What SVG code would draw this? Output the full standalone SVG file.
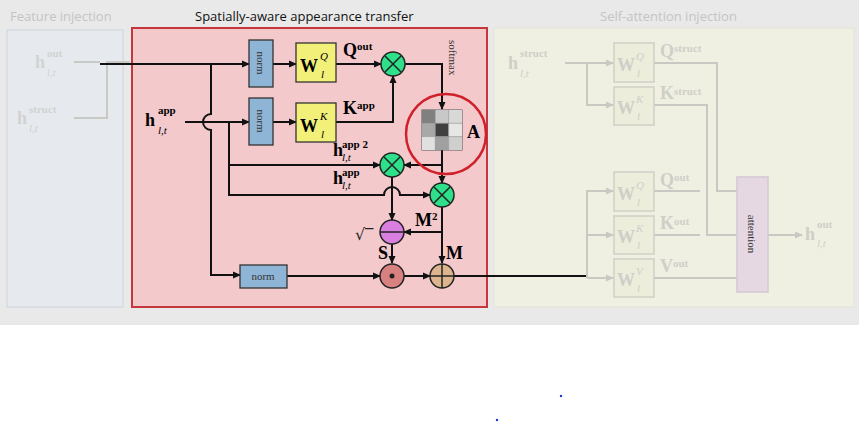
<svg xmlns="http://www.w3.org/2000/svg" width="859" height="423" viewBox="0 0 859 423">
<style>
.t{font-family:"Open Sans","Liberation Sans",sans-serif;font-size:13px}
.m{font-family:"Liberation Serif",serif;font-size:18px;font-weight:bold}
.s{font-family:"Liberation Serif",serif;font-size:11px;font-weight:bold}
.i{font-family:"Liberation Serif",serif;font-size:11px;font-style:italic}
.ln{fill:none;stroke:#111;stroke-width:2}
.gl{fill:none;stroke:#c9c9c4;stroke-width:2}
.norm{fill:#8fb5d6;stroke:#333;stroke-width:1.3}
.w{fill:#f3f07a;stroke:#333;stroke-width:1.3}
.gw{fill:#ededdc;stroke:#cfcfc6;stroke-width:1.5}
.nt{font-family:"Liberation Serif",serif;font-size:11px;fill:#333}
.gt{fill:#cfcfc8}
.lt{fill:#d2d2d2}
</style>
<defs>
<marker id="a" markerWidth="8" markerHeight="8" refX="7" refY="4" orient="auto" markerUnits="userSpaceOnUse"><path d="M0,0.5 L8,4 L0,7.5z" fill="#111"/></marker>
<marker id="g" markerWidth="8" markerHeight="8" refX="7" refY="4" orient="auto" markerUnits="userSpaceOnUse"><path d="M0,0.5 L8,4 L0,7.5z" fill="#c9c9c4"/></marker>
</defs>
<rect width="859" height="325" fill="#e9e9e9"/>
<rect y="325" width="859" height="98" fill="#fff"/>
<circle cx="561" cy="396" r="1.2" fill="#1a3ccc"/>
<circle cx="497" cy="420" r="1.2" fill="#1a3ccc"/>
<text class="t" x="10" y="21" fill="#c4c4c4">Feature injection</text>
<text class="t" x="195" y="21" fill="#111">Spatially-aware appearance transfer</text>
<text class="t" x="600" y="21" fill="#c4c4c4">Self-attention injection</text>

<g id="left-panel">
<rect x="7" y="30" width="116" height="277" fill="#e6eaee" stroke="#d0d8de" stroke-width="1.2"/>
<text x="35" y="68" class="m lt" font-size="20">h</text><text x="47" y="57" class="s lt" font-size="12">out</text><text x="47" y="76" class="i lt" font-size="12">l,t</text>
<text x="17" y="124" class="m lt" font-size="20">h</text><text x="29" y="113" class="s lt" font-size="12">struct</text><text x="29" y="132" class="i lt" font-size="12">l,t</text>
<path class="gl" d="M74,62 H100 M74,118 H107 V62 H130"/>
</g>

<g id="main-panel">
<rect x="132" y="28" width="355" height="279" fill="#f3c9cc" stroke="#c6373d" stroke-width="2"/>
</g>

<g id="right-panel">
<rect x="494" y="28" width="360" height="279" fill="#efefe2" stroke="#e3e3d6" stroke-width="1"/>
</g>

<g id="connectors">
<path class="ln" d="M100,64 H249" marker-end="url(#a)"/>
<path class="ln" d="M273,64 H296" marker-end="url(#a)"/>
<path class="ln" d="M336,64 H381" marker-end="url(#a)"/>
<path class="ln" d="M211,64 V114 A8,8 0 0 0 211,130 V275 H240" marker-end="url(#a)"/>
<path class="ln" d="M185,122 H249" marker-end="url(#a)"/>
<path class="ln" d="M273,122 H296" marker-end="url(#a)"/>
<path class="ln" d="M336,122 H393 V76" marker-end="url(#a)"/>
<path class="ln" d="M405,64 H442 V109" marker-end="url(#a)"/>
<path class="ln" d="M229,122 V195 H384 A8,8 0 0 1 400,195 H430" marker-end="url(#a)"/>
<path class="ln" d="M229,165 H380" marker-end="url(#a)"/>
<path class="ln" d="M442,150 V165 H404" marker-end="url(#a)"/>
<path class="ln" d="M442,165 V183" marker-end="url(#a)"/>
<path class="ln" d="M392,177 V220" marker-end="url(#a)"/>
<path class="ln" d="M442,207 V263" marker-end="url(#a)"/>
<path class="ln" d="M442,232 H404" marker-end="url(#a)"/>
<path class="ln" d="M392,244 V263" marker-end="url(#a)"/>
<path class="ln" d="M287,276 H380" marker-end="url(#a)"/>
<path class="ln" d="M404,276 H430" marker-end="url(#a)"/>
<path class="ln" d="M454,276 H587"/>
<path class="gl" d="M565,63 H613" marker-end="url(#g)"/>
<path class="gl" d="M587,63 V105 H613" marker-end="url(#g)"/>
<path class="gl" d="M587,278 H613" marker-end="url(#g)"/>
<path class="gl" d="M587,278 V191 H613" marker-end="url(#g)"/>
<path class="gl" d="M587,235 H613" marker-end="url(#g)"/>
<path class="gl" d="M654,63 H717 V191 H737"/>
<path class="gl" d="M654,105 H707 V235 H737"/>
<path class="gl" d="M654,191 H700 M654,235 H700"/>
<path class="gl" d="M654,278 H737"/>
<path class="gl" d="M768,235 H802" marker-end="url(#g)"/>
</g>

<g id="norm1"><rect class="norm" x="249" y="40" width="24" height="47"/><text class="nt" transform="translate(257,63) rotate(90)" text-anchor="middle">norm</text></g>
<g id="norm2"><rect class="norm" x="249" y="98" width="24" height="47"/><text class="nt" transform="translate(257,121) rotate(90)" text-anchor="middle">norm</text></g>
<g id="norm3"><rect class="norm" x="240" y="265" width="47" height="23"/><text class="nt" x="263" y="280" text-anchor="middle">norm</text></g>
<g id="wq"><rect class="w" x="296" y="43" width="40" height="39"/><text class="m" x="300" y="72" font-size="20">W</text><text class="i" x="320" y="60" font-size="13">Q</text><text class="i" x="321" y="78" font-size="13">l</text></g>
<g id="wk"><rect class="w" x="296" y="103" width="40" height="39"/><text class="m" x="300" y="132" font-size="20">W</text><text class="i" x="320" y="120" font-size="13">K</text><text class="i" x="321" y="138" font-size="13">l</text></g>
<text class="m" x="343" y="56" font-size="14">Q<tspan class="s" font-size="9" dy="-6">out</tspan></text>
<text class="m" x="343" y="114" font-size="14">K<tspan class="s" font-size="9" dy="-5">app</tspan></text>
<text x="145" y="126" class="m" font-size="22">h</text><text x="158" y="114" class="s" font-size="14">app</text><text x="158" y="134" class="i" font-size="13">l,t</text>
<text x="333" y="156" class="m" font-size="14">h</text><text x="342" y="148" class="s" font-size="9">app 2</text><text x="342" y="161" class="i" font-size="9">l,t</text>
<text x="333" y="184" class="m" font-size="14">h</text><text x="342" y="176" class="s" font-size="9">app</text><text x="342" y="189" class="i" font-size="9">l,t</text>
<text class="nt" font-size="12" fill="#111" transform="translate(449,40) rotate(90)">softmax</text>

<g id="attn-matrix">
<rect x="422" y="110" width="40" height="40" fill="#fff" stroke="#555"/>
<rect x="422" y="110" width="13.3" height="13.3" fill="#808080"/><rect x="435.3" y="110" width="13.3" height="13.3" fill="#c8c8c8"/><rect x="448.6" y="110" width="13.4" height="13.3" fill="#d8d8d8"/>
<rect x="422" y="123.3" width="13.3" height="13.3" fill="#a8a8a8"/><rect x="435.3" y="123.3" width="13.3" height="13.3" fill="#404040"/><rect x="448.6" y="123.3" width="13.4" height="13.3" fill="#e6e6e6"/>
<rect x="422" y="136.6" width="13.3" height="13.4" fill="#e0e0e0"/><rect x="435.3" y="136.6" width="13.3" height="13.4" fill="#a0a0a0"/><rect x="448.6" y="136.6" width="13.4" height="13.4" fill="#cfcfcf"/>
<path d="M435.3,110V150M448.6,110V150M422,123.3H462M422,136.6H462" stroke="#888" stroke-width="0.6"/>
<circle cx="446" cy="134" r="40" fill="none" stroke="#d0202a" stroke-width="2.5"/>
<text class="m" x="467" y="138" font-size="14">A</text>
</g>

<g id="mul1"><circle cx="393" cy="64" r="12" fill="#2ee08a" stroke="#222" stroke-width="1.5"/><path d="M385,56L401,72M401,56L385,72" stroke="#222" stroke-width="1.5"/></g>
<g id="mul2"><circle cx="392" cy="165" r="12" fill="#2ee08a" stroke="#222" stroke-width="1.5"/><path d="M384,157L400,173M400,157L384,173" stroke="#222" stroke-width="1.5"/></g>
<g id="mul3"><circle cx="442" cy="195" r="12" fill="#2ee08a" stroke="#222" stroke-width="1.5"/><path d="M434,187L450,203M450,187L434,203" stroke="#222" stroke-width="1.5"/></g>
<g id="minus"><circle cx="392" cy="232" r="12" fill="#d97fe0" stroke="#222" stroke-width="1.5"/><path d="M380,232H404" stroke="#222" stroke-width="1.5"/></g>
<text font-family="DejaVu Sans,sans-serif" x="355" y="240" font-size="16" fill="#222">√‾</text>
<text class="m" x="415" y="226" font-size="14">M<tspan class="s" font-size="9" dy="-6">2</tspan></text>
<text class="m" x="378" y="259" font-size="14">S</text>
<text class="m" x="446" y="259" font-size="14">M</text>
<g id="odot"><circle cx="392" cy="276" r="12" fill="#d98080" stroke="#222" stroke-width="1.5"/><circle cx="392" cy="276" r="2.5" fill="#222"/></g>
<g id="oplus"><circle cx="442" cy="276" r="12" fill="#dcb48e" stroke="#222" stroke-width="1.5"/><path d="M430,276H454M442,264V288" stroke="#222" stroke-width="1.5"/></g>

<g id="right-nodes">
<text x="508" y="69" class="m gt" font-size="20">h</text><text x="520" y="57" class="s gt" font-size="12">struct</text><text x="520" y="77" class="i gt" font-size="12">l,t</text>
<rect class="gw" x="614" y="43" width="40" height="39"/><rect class="gw" x="614" y="87" width="40" height="38"/>
<rect class="gw" x="614" y="172" width="40" height="39"/><rect class="gw" x="614" y="216" width="40" height="38"/><rect class="gw" x="614" y="259" width="40" height="38"/>
<text class="m gt" x="617" y="71" font-size="19">W</text><text class="i gt" x="636" y="60" font-size="12">Q</text><text class="i gt" x="637" y="77" font-size="12">l</text>
<text class="m gt" x="617" y="114" font-size="19">W</text><text class="i gt" x="636" y="103" font-size="12">K</text><text class="i gt" x="637" y="120" font-size="12">l</text>
<text class="m gt" x="617" y="200" font-size="19">W</text><text class="i gt" x="636" y="189" font-size="12">Q</text><text class="i gt" x="637" y="206" font-size="12">l</text>
<text class="m gt" x="617" y="243" font-size="19">W</text><text class="i gt" x="636" y="232" font-size="12">K</text><text class="i gt" x="637" y="249" font-size="12">l</text>
<text class="m gt" x="617" y="286" font-size="19">W</text><text class="i gt" x="636" y="275" font-size="12">V</text><text class="i gt" x="637" y="292" font-size="12">l</text>
<text class="m gt" x="660" y="57" font-size="13">Q<tspan class="s" font-size="8" dy="-5">struct</tspan></text>
<text class="m gt" x="660" y="99" font-size="13">K<tspan class="s" font-size="8" dy="-4">struct</tspan></text>
<text class="m gt" x="660" y="186" font-size="13">Q<tspan class="s" font-size="8" dy="-5">out</tspan></text>
<text class="m gt" x="660" y="229" font-size="13">K<tspan class="s" font-size="8" dy="-4">out</tspan></text>
<text class="m gt" x="660" y="272" font-size="13">V<tspan class="s" font-size="8" dy="-5">out</tspan></text>
<rect x="737" y="177" width="31" height="115" fill="#e6d8e2" stroke="#d4c8d2" stroke-width="1.5"/>
<text class="nt" font-size="13" fill="#d0b8cc" transform="translate(748,234) rotate(90)" text-anchor="middle">attention</text>
<text x="805" y="240" class="m gt" font-size="20">h</text><text x="817" y="228" class="s gt" font-size="12">out</text><text x="817" y="247" class="i gt" font-size="12">l,t</text>
</g>
</svg>
